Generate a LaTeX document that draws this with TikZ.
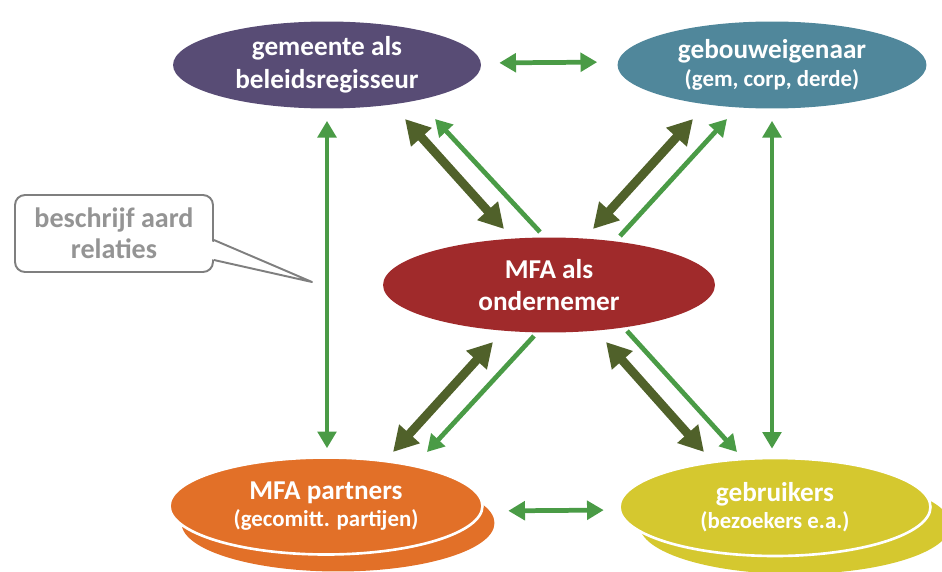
\documentclass[tikz,border=0pt]{standalone}
\usepackage{fontspec}
\setmainfont{Carlito}
\usepackage{tikz}
\usetikzlibrary{arrows.meta}
\usetikzlibrary{shapes.geometric}

\definecolor{paars}{RGB}{88,76,117}
\definecolor{blauw}{RGB}{80,135,155}
\definecolor{rood}{RGB}{160,42,43}
\definecolor{oranje}{RGB}{226,112,40}
\definecolor{geel}{RGB}{213,200,47}
\definecolor{groen}{RGB}{74,155,70}
\definecolor{olijf}{RGB}{80,97,42}
\definecolor{rand}{RGB}{127,127,127}
\definecolor{tekstgrijs}{RGB}{148,148,148}

\newcommand{\klein}{\fontsize{13}{16}\selectfont}

\tikzset{
rol/.style={ellipse, inner sep=0pt, text=white, align=center,
  font=\fontsize{15.5}{18.7}\selectfont\bfseries},
voor/.style={rol, draw=white, line width=1.5pt},
notitie/.style={rectangle, rounded corners=0.2cm, draw=rand, line width=1.1pt,
  text=tekstgrijs, align=center, font=\fontsize{16}{17.5}\selectfont\bfseries},
dun/.style={draw=groen, line width=2.7pt, -{Triangle[width=10.5pt,length=9.5pt]}},
dunbeide/.style={dun, {Triangle[width=10.5pt,length=9.5pt]}-{Triangle[width=10.5pt,length=9.5pt]}},
dik/.style={draw=olijf, line width=5pt, {Triangle[width=15pt,length=14pt]}-{Triangle[width=15pt,length=14pt]}}
}

\begin{document}
\begin{tikzpicture}[x=0.02cm, y=-0.02cm]
\useasboundingbox (0,0) rectangle (942,571);

% schaduw onder de twee onderste rollen
\fill[oranje] (338,523) ellipse [x radius=3.13cm, y radius=0.97cm];
\fill[geel] (795,525) ellipse [x radius=3.11cm, y radius=0.98cm];

\node [rol, fill=paars, minimum width=6.16cm, minimum height=1.74cm] (gemeente) at (327,65) {gemeente als\\beleidsregisseur};
\node [rol, fill=blauw, minimum width=6.18cm, minimum height=1.74cm] (eigenaar) at (772,65) {gebouweigenaar\\[-3pt]{\klein(gem, corp, derde)}};
\node [rol, fill=rood, minimum width=6.64cm, minimum height=1.9cm] (mfa) at (549,285) {MFA als\\ondernemer};
\node [voor, fill=oranje, minimum width=6.26cm, minimum height=1.94cm] (partners) at (326,506) {MFA partners\\[-3pt]{\klein(gecomitt. partijen)}};
\node [voor, fill=geel, minimum width=6.22cm, minimum height=1.96cm] (gebruikers) at (775,507) {gebruikers\\[-3pt]{\klein(bezoekers e.a.)}};

% opmerking met staart
\node [notitie, minimum width=3.96cm, minimum height=1.54cm] (aard) at (114,233.5) {beschrijf aard\\relaties};
\coordinate (aardpunt) at (312,282);
\fill[white] (211,241) -- (aardpunt) -- (211,259) -- cycle;
\draw[rand, line width=1.1pt, line join=round] (aard.east |- 0,240) -- (aardpunt) -- (aard.east |- 0,260);

% rechte verbindingen
\draw[dunbeide, shorten <=0.36cm, shorten >=0.4cm] ([yshift=0.04cm]gemeente.east) -- ([yshift=0.06cm]eigenaar.west);
\draw[dunbeide, shorten <=0.49cm, shorten >=0.29cm] ([yshift=-0.1cm]partners.east) -- ([yshift=-0.06cm]gebruikers.west);
\draw[dunbeide, shorten <=0.24cm, shorten >=0.16cm] (gemeente.south) -- (gemeente.south |- partners.north);
\draw[dunbeide, shorten <=0.24cm, shorten >=0.16cm] (eigenaar.south) -- (eigenaar.south |- gebruikers.north);

% schuine verbindingen vanuit de MFA
\coordinate (LBa) at (405,119);
\coordinate (LBb) at (504,229);
\coordinate (LBc) at (540,232);
\coordinate (LBd) at (435,119);
\coordinate (RBa) at (593,229);
\coordinate (RBb) at (693,119);
\coordinate (RBc) at (620,236);
\coordinate (RBd) at (727,119);
\coordinate (LOa) at (493,342);
\coordinate (LOb) at (393,452);
\coordinate (LOc) at (534,336);
\coordinate (LOd) at (427,452);
\coordinate (ROa) at (606,342);
\coordinate (ROb) at (704,452);
\coordinate (ROc) at (627,331);
\coordinate (ROd) at (737,452);

\draw[dik] (LBa) -- (LBb);
\draw[dun] (LBc) -- (LBd);
\draw[dik] (RBa) -- (RBb);
\draw[dun] (RBc) -- (RBd);
\draw[dik] (LOa) -- (LOb);
\draw[dun] (LOc) -- (LOd);
\draw[dik] (ROa) -- (ROb);
\draw[dun] (ROc) -- (ROd);
\end{tikzpicture}
\end{document}
